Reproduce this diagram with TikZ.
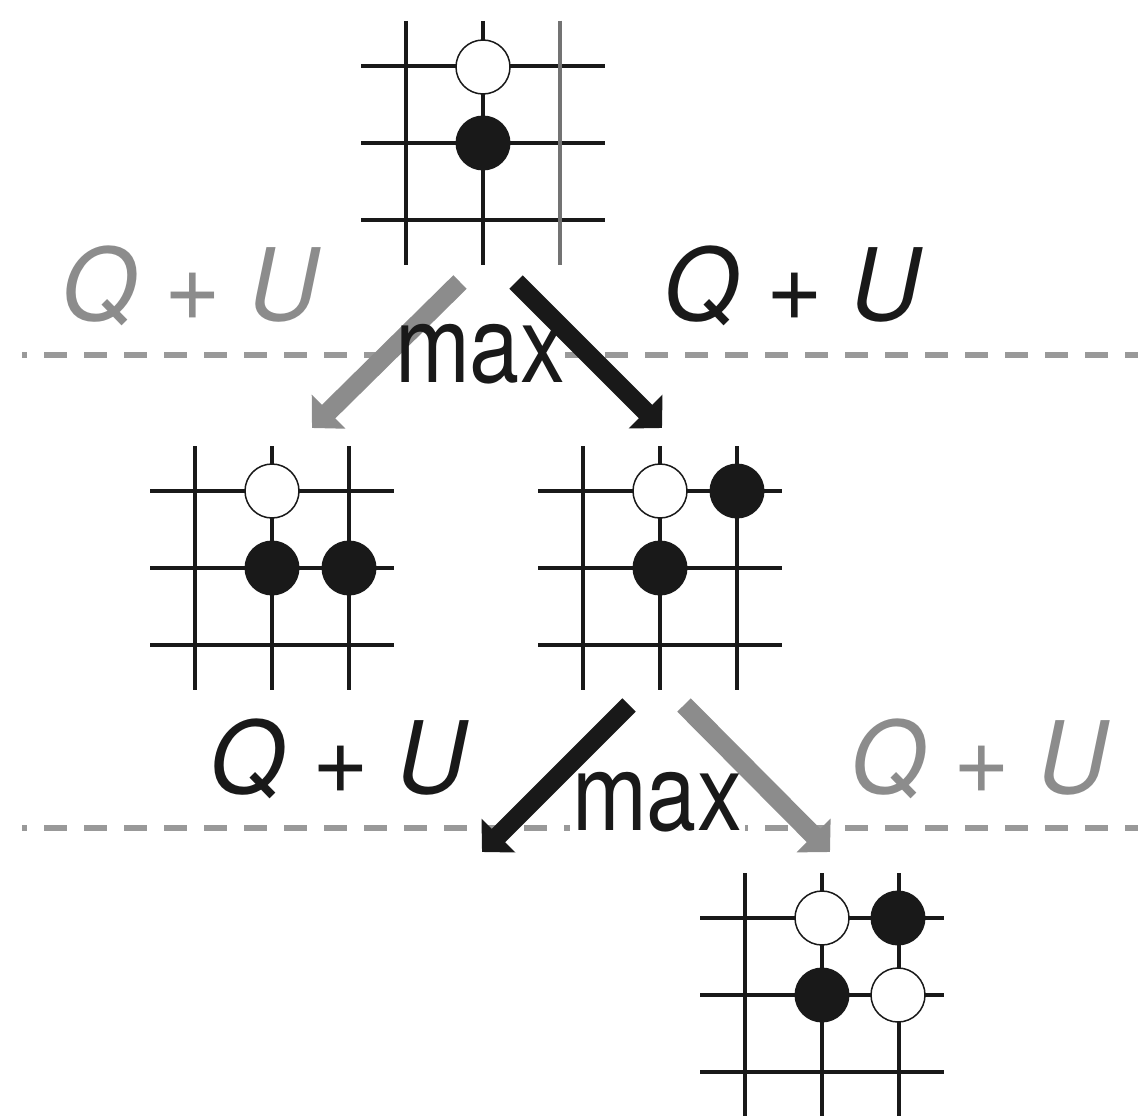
\documentclass[tikz,border=0pt]{standalone}
\usepackage{fontspec}
\setsansfont{TeX Gyre Heros}
\usetikzlibrary{arrows.meta}

\begin{document}
\begin{tikzpicture}[x=1pt,y=-1pt,
    gridline/.style={line width=3.8pt,black!90},
    bstone/.style={circle,fill=black!90,minimum size=55pt,inner sep=0pt},
    wstone/.style={circle,draw=black!90,line width=1.5pt,fill=white,minimum size=54pt,inner sep=0pt},
    sep/.style={black!40,line width=6pt,dash pattern=on 23pt off 17pt},
    mv/.style={-{Triangle[angle=90:33pt]},line width=19pt},
    lbl/.style={anchor=base,inner sep=0pt,font=\sffamily\fontsize{100}{100}\selectfont},
    board/.pic={
      \foreach \k in {-77,0,77}{
        \draw[gridline] (-122,\k) -- (122,\k);
        \draw[gridline] (\k,-122) -- (\k,122);
      }
    }
  ]
    \useasboundingbox (0,0) rectangle (1138,1116);

    % level separators
    \coordinate (s1w) at (22,355);  \coordinate (s1a) at (395,355);
    \coordinate (s1b) at (565,355); \coordinate (s1e) at (1138,355);
    \coordinate (s2w) at (22,828);  \coordinate (s2a) at (570,828);
    \coordinate (s2b) at (745,828); \coordinate (s2e) at (1138,828);
    \draw[sep,dash phase=18pt] (s1w) -- (s1a);
    \draw[sep] (s1b) -- (s1e);
    \draw[sep,dash phase=18pt] (s2w) -- (s2a);
    \draw[sep,dash phase=20pt] (s2b) -- (s2e);

    % boards
    \pic (root) at (483,143) {board};
    \draw[gridline,black!55] (560,21) -- (560,265);
    \node[wstone] (r1) at (483,67) {};
    \node[bstone] (r2) at (483,143) {};

    \pic (left) at (272,568) {board};
    \node[wstone] (l1) at (272,491) {};
    \node[bstone] (l2) at (272,568) {};
    \node[bstone] (l3) at (349,568) {};

    \pic (mid) at (660,568) {board};
    \node[wstone] (m1) at (660,491) {};
    \node[bstone] (m2) at (737,491) {};
    \node[bstone] (m3) at (660,568) {};

    \pic (deep) at (822,995) {board};
    \node[wstone] (d1) at (822,918) {};
    \node[bstone] (d2) at (898,918) {};
    \node[bstone] (d3) at (822,995) {};
    \node[wstone] (d4) at (898,995) {};

    % moves
    \coordinate (r-a) at (460,282); \coordinate (l-t) at (312,428);
    \coordinate (r-b) at (516,282); \coordinate (m-t) at (662,428);
    \coordinate (m-a) at (629,705); \coordinate (x-t) at (482,852);
    \coordinate (m-b) at (684,705); \coordinate (d-t) at (830,852);
    \draw[mv,black!45] (r-a) -- (l-t);
    \draw[mv,black!90] (r-b) -- (m-t);
    \draw[mv,black!90] (m-a) -- (x-t);
    \draw[mv,black!45] (m-b) -- (d-t);

    % labels
    \node[lbl,text=black!45] (qu1) at (190,320) {\scalebox{0.97}[1]{\itshape Q \upshape+ \itshape U}};
    \node[lbl,text=black!90] (qu2) at (792,320) {\scalebox{0.97}[1]{\itshape Q \upshape+ \itshape U}};
    \node[lbl,text=black!90] (qu3) at (338,793) {\scalebox{0.97}[1]{\itshape Q \upshape+ \itshape U}};
    \node[lbl,text=black!45] (qu4) at (979,793) {\scalebox{0.97}[1]{\itshape Q \upshape+ \itshape U}};
    \node[lbl,text=black!90] (mx1) at (480,382) {\scalebox{0.9}[1.08]{max}};
    \node[lbl,text=black!90] (mx2) at (657,830) {\scalebox{0.9}[1.08]{max}};
  \end{tikzpicture}
\end{document}
